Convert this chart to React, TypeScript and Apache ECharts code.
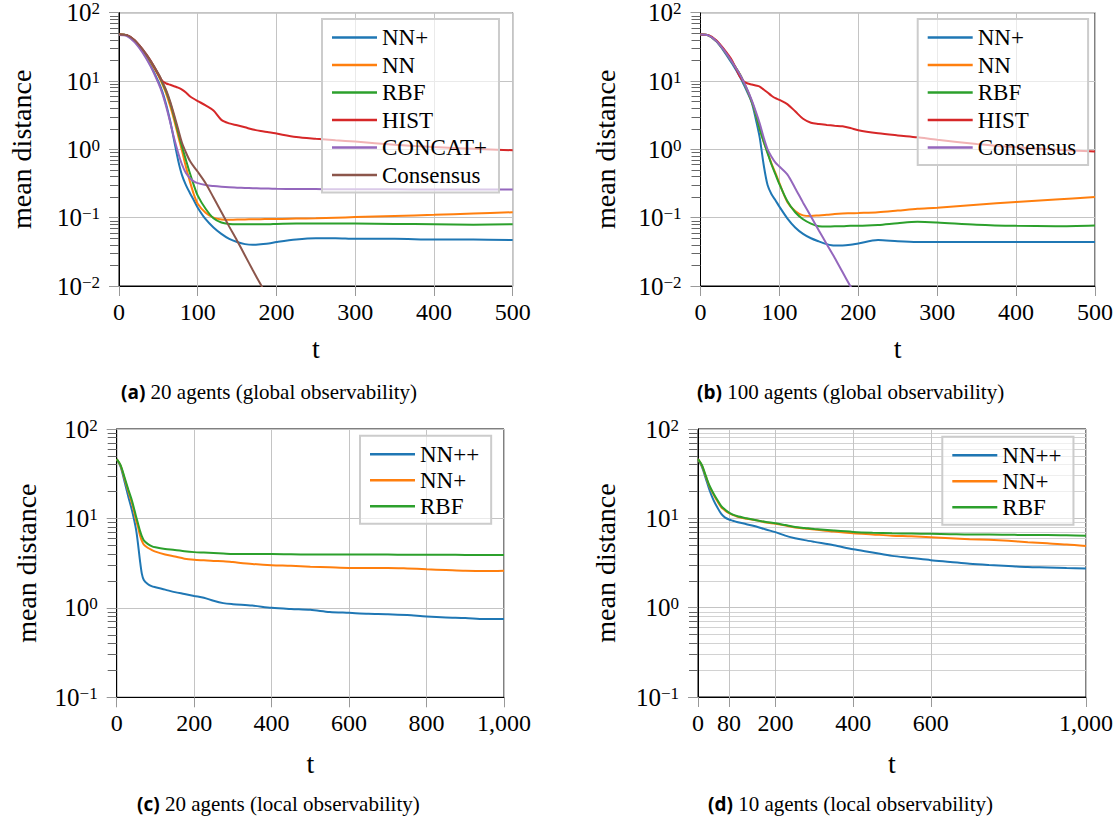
import { useEffect, useRef } from 'react';
import * as echarts from 'echarts';

// ---------- data ----------
const T_AB = [0, 10, 20, 30, 40, 50, 55, 60, 65, 70, 75, 80, 85, 90, 95, 100, 110, 120, 130, 140, 150, 160, 170, 180, 190, 200, 225, 250, 275, 300, 350, 400, 450, 500];

const aNNPlus = [48, 46.5, 38, 27, 17, 9.8, 7.0, 4.5, 2.6, 1.35, 0.7, 0.42, 0.3, 0.23, 0.18, 0.14, 0.095, 0.072, 0.058, 0.049, 0.044, 0.041, 0.04, 0.041, 0.042, 0.044, 0.048, 0.05, 0.05, 0.049, 0.049, 0.048, 0.048, 0.047];
const aNN = [48, 46.5, 38.5, 28, 19, 12, 9, 6.5, 4.3, 2.7, 1.6, 0.95, 0.55, 0.34, 0.22, 0.16, 0.118, 0.1, 0.094, 0.093, 0.094, 0.094, 0.095, 0.095, 0.096, 0.096, 0.097, 0.098, 0.1, 0.102, 0.106, 0.11, 0.115, 0.12];
const aRBF = [48, 46.5, 38.5, 28, 19.5, 12.5, 9.5, 7, 4.8, 3.0, 1.8, 1.1, 0.7, 0.45, 0.3, 0.21, 0.135, 0.098, 0.085, 0.081, 0.08, 0.08, 0.08, 0.08, 0.08, 0.081, 0.082, 0.082, 0.082, 0.082, 0.081, 0.08, 0.079, 0.08];
const aHIST = [48, 47, 39.5, 29, 20, 12.5, 10, 9.2, 8.8, 8.4, 8.0, 7.5, 6.8, 6.0, 5.5, 5.1, 4.4, 3.7, 2.7, 2.4, 2.25, 2.1, 1.95, 1.85, 1.78, 1.7, 1.52, 1.43, 1.36, 1.3, 1.17, 1.08, 1.02, 0.97];
const aCONCAT = [47, 45.5, 37, 26, 16.5, 9.3, 6.6, 4.2, 2.5, 1.45, 0.9, 0.6, 0.45, 0.38, 0.34, 0.32, 0.3, 0.29, 0.283, 0.278, 0.275, 0.272, 0.27, 0.268, 0.267, 0.265, 0.263, 0.262, 0.26, 0.26, 0.26, 0.258, 0.258, 0.258];
const aConsensus = [48, 47, 39.5, 29, 20, 12.8, 9.8, 7.3, 5.0, 3.2, 2.0, 1.25, 0.9, 0.68, 0.56, 0.47, 0.32, 0.197, 0.121, 0.074, 0.046, 0.028, 0.017, 0.0105, 0.0065];

const bNNPlus = [48, 46.5, 38, 27, 18, 11.5, 8.8, 6.6, 4.8, 2.8, 1.5, 0.6, 0.3, 0.22, 0.18, 0.145, 0.098, 0.072, 0.058, 0.05, 0.045, 0.041, 0.039, 0.039, 0.04, 0.042, 0.047, 0.045, 0.044, 0.044, 0.044, 0.044, 0.044, 0.044];
const bNN = [48, 46.5, 38.5, 28, 19, 12.5, 9.5, 7, 5, 3.3, 2.0, 1.3, 0.9, 0.62, 0.45, 0.32, 0.17, 0.125, 0.108, 0.106, 0.108, 0.11, 0.113, 0.115, 0.116, 0.117, 0.12, 0.127, 0.135, 0.14, 0.155, 0.17, 0.185, 0.2];
const bRBF = [48, 46.5, 38.5, 28, 19, 12.5, 9.5, 7, 5, 3.3, 2.0, 1.3, 0.88, 0.6, 0.43, 0.31, 0.175, 0.12, 0.095, 0.082, 0.075, 0.074, 0.075, 0.075, 0.076, 0.076, 0.078, 0.083, 0.087, 0.085, 0.079, 0.076, 0.075, 0.077];
const bHIST = [48, 47, 39.5, 29, 20, 11.5, 9.8, 9.2, 8.9, 8.6, 8.3, 7.5, 6.8, 6.1, 5.6, 5.3, 4.6, 3.6, 2.8, 2.45, 2.35, 2.28, 2.22, 2.17, 2.05, 1.9, 1.72, 1.6, 1.5, 1.38, 1.2, 1.07, 0.99, 0.93];
const bConsensus = [48, 46.5, 38.5, 28, 19, 12.5, 9.6, 7.2, 5.2, 3.6, 2.4, 1.5, 1.0, 0.78, 0.64, 0.56, 0.43, 0.27, 0.166, 0.104, 0.065, 0.041, 0.026, 0.016, 0.0099, 0.0062];

const T_C = [0, 10, 20, 30, 40, 50, 55, 60, 65, 70, 80, 90, 100, 125, 150, 175, 200, 225, 250, 275, 300, 350, 400, 450, 500, 550, 600, 650, 700, 750, 800, 850, 900, 950, 1000];
const cNNPlusPlus = [46, 38, 26, 17.5, 12, 7.5, 5.2, 3.4, 2.4, 2.05, 1.85, 1.75, 1.7, 1.6, 1.5, 1.43, 1.36, 1.3, 1.2, 1.13, 1.1, 1.06, 1.0, 0.97, 0.95, 0.9, 0.88, 0.86, 0.85, 0.83, 0.8, 0.78, 0.77, 0.75, 0.75];
const cNNPlus = [46, 39, 28, 20, 14.5, 9.5, 8, 6.5, 5.6, 5.1, 4.7, 4.45, 4.25, 3.95, 3.75, 3.55, 3.45, 3.4, 3.35, 3.33, 3.25, 3.1, 3.0, 2.95, 2.88, 2.84, 2.8, 2.8, 2.8, 2.76, 2.7, 2.65, 2.6, 2.58, 2.6];
const cRBF = [46, 39.5, 29, 21, 15.5, 10.5, 8.8, 7.3, 6.3, 5.7, 5.2, 4.9, 4.75, 4.55, 4.45, 4.3, 4.2, 4.15, 4.1, 4.05, 4.0, 4.0, 4.0, 3.97, 3.95, 3.95, 3.95, 3.95, 3.94, 3.93, 3.92, 3.92, 3.91, 3.9, 3.9];

const T_D = [0, 10, 20, 30, 40, 50, 60, 70, 80, 90, 100, 125, 150, 175, 200, 225, 250, 275, 300, 350, 400, 450, 500, 550, 600, 650, 700, 750, 800, 850, 900, 950, 1000];
const dNNPlusPlus = [46, 38, 28, 20.5, 16, 13.2, 11.2, 10.2, 9.7, 9.4, 9.1, 8.6, 8.1, 7.5, 7.0, 6.4, 6.0, 5.7, 5.45, 5.0, 4.5, 4.15, 3.8, 3.6, 3.4, 3.25, 3.1, 3.0, 2.92, 2.85, 2.82, 2.78, 2.75];
const dNNPlus = [46, 39, 29.5, 22.5, 18.5, 15.5, 13.3, 12.2, 11.4, 10.9, 10.5, 9.9, 9.5, 9.0, 8.7, 8.3, 7.9, 7.7, 7.5, 7.1, 6.8, 6.6, 6.4, 6.3, 6.15, 6.0, 5.85, 5.75, 5.6, 5.4, 5.25, 5.1, 4.9];
const dRBF = [46, 39.5, 30, 23, 19, 16, 13.7, 12.5, 11.6, 11.0, 10.6, 10.0, 9.5, 9.1, 8.8, 8.4, 8.0, 7.8, 7.6, 7.3, 7.05, 6.9, 6.8, 6.75, 6.7, 6.65, 6.6, 6.6, 6.55, 6.5, 6.5, 6.45, 6.4];

const D_TICKS = [0, 80, 200, 400, 600, 1000];

const CAPTIONS = [
  ['(a)', '20 agents (global observability)'],
  ['(b)', '100 agents (global observability)'],
  ['(c)', '20 agents (local observability)'],
  ['(d)', '10 agents (local observability)'],
];

// ---------- styling ----------
const C = { blue: '#1f77b4', orange: '#ff7f0e', green: '#2ca02c', red: '#d62728', purple: '#9467bd', brown: '#8c564b' };
const SERIF = 'Liberation Serif';
const GRID = '#c4c4c4';

const sup = (e: number) => (e < 0 ? '\u2212' + -e : String(e));
const logLabel = (v: number) => `{b|10}{s|${sup(Math.round(Math.log10(v)))}}`;
const comma = (v: number) => String(v).replace(/\B(?=(\d{3})+(?!\d))/g, ',');

function line(key: string, name: string, t: number[], v: number[], color: string, gi: number) {
  return {
    type: 'line',
    name: key + ':' + name,
    xAxisIndex: gi,
    yAxisIndex: gi,
    data: v.map((y, i) => [t[i], y]),
    symbol: 'none',
    showSymbol: false,
    smooth: 0.3,
    clip: true,
    lineStyle: { width: 2, color },
    itemStyle: { color },
    emphasis: { disabled: true },
  };
}

function xAxis(gi: number, max: number, interval: number, nameGap: number, custom?: number[]) {
  return {
    type: 'value',
    gridIndex: gi,
    min: 0,
    max,
    interval,
    axisLine: { show: true, onZero: false, lineStyle: { color: '#000', width: 1 } },
    axisTick: { show: true, inside: false, length: 10, lineStyle: { color: '#999' }, ...(custom ? { customValues: custom } : {}) },
    axisLabel: { fontFamily: SERIF, fontSize: 24, color: '#000', margin: 14, formatter: comma, ...(custom ? { customValues: custom } : {}) },
    splitLine: { show: true, lineStyle: { color: GRID, width: 1 } },
    name: 't',
    nameLocation: 'middle',
    nameGap,
    nameTextStyle: { fontFamily: SERIF, fontSize: 28, color: '#000' },
  };
}

function yLog(gi: number, min: number, nameGap: number) {
  return {
    type: 'log',
    logBase: 10,
    gridIndex: gi,
    min,
    max: 100,
    interval: 1,
    position: 'left',
    axisLine: { show: true, lineStyle: { color: '#000', width: 1 } },
    axisTick: { show: true, length: 10, lineStyle: { color: '#999' } },
    axisLabel: {
      margin: 19,
      fontFamily: SERIF,
      formatter: logLabel,
      rich: {
        b: { fontFamily: SERIF, fontSize: 25, color: '#000' },
        s: { fontFamily: SERIF, fontSize: 17, color: '#000', verticalAlign: 'top' },
      },
    },
    splitLine: { show: true, lineStyle: { color: GRID, width: 1 } },
    name: 'mean distance',
    nameLocation: 'middle',
    nameGap,
    nameRotate: 90,
    nameTextStyle: { fontFamily: SERIF, fontSize: 28, color: '#000' },
  };
}

function yMinor(gi: number, lo: number, hi: number, showGrid: boolean) {
  const vals: number[] = [];
  for (let n = lo; n < hi; n++) for (let k = 2; k <= 9; k++) vals.push(n + Math.log10(k));
  return {
    type: 'value',
    gridIndex: gi,
    min: lo,
    max: hi,
    position: 'left',
    axisLine: { show: false },
    axisLabel: { show: false },
    axisTick: { show: true, length: 9, customValues: vals, lineStyle: { color: '#666' } },
    splitLine: { show: showGrid, lineStyle: { color: '#d2d2d2', width: 1 } },
  };
}

function legend(key: string, names: string[], left: number, top: number, gap: number) {
  return {
    data: names.map((n) => key + ':' + n),
    formatter: (n: string) => n.split(':')[1],
    orient: 'vertical',
    left,
    top,
    icon: 'rect',
    itemWidth: 45,
    itemHeight: 2.4,
    itemGap: gap,
    padding: [7, 12, 6, 10],
    borderColor: '#cccccc',
    borderWidth: 2,
    backgroundColor: 'rgba(255,255,255,0.65)',
    selectedMode: false,
    textStyle: { fontFamily: SERIF, fontSize: 23, color: '#000', lineHeight: 22 },
  };
}

function caption(i: number, left: number, top: number) {
  return {
    text: `{b|${CAPTIONS[i][0]}} ${CAPTIONS[i][1]}`,
    left,
    top,
    padding: 0,
    textStyle: {
      fontFamily: SERIF,
      fontSize: 21,
      fontWeight: 'normal',
      color: '#000',
      rich: { b: { fontFamily: 'Open Sans', fontWeight: 'bold', fontSize: 19, color: '#000' } },
    },
  };
}

function buildOption() {
  return {
    animation: false,
    backgroundColor: '#fff',
    textStyle: { fontFamily: SERIF },
    title: [caption(0, 121, 381), caption(1, 697, 381), caption(2, 137, 793), caption(3, 708, 793)],
    grid: [
      { left: 119, top: 12.7, width: 393.7, height: 273.3, show: true, borderColor: '#000', borderWidth: 1, containLabel: false },
      { left: 700.5, top: 12.7, width: 394.5, height: 273.3, show: true, borderColor: '#000', borderWidth: 1, containLabel: false },
      { left: 116.7, top: 429, width: 387.3, height: 268.3, show: true, borderColor: '#000', borderWidth: 1, containLabel: false },
      { left: 698, top: 429, width: 388, height: 268, show: true, borderColor: '#000', borderWidth: 1, containLabel: false },
    ],
    xAxis: [
      xAxis(0, 500, 100, 48),
      xAxis(1, 500, 100, 48),
      xAxis(2, 1000, 200, 52),
      xAxis(3, 1000, 200, 52, D_TICKS),
    ],
    yAxis: [
      yLog(0, 0.01, 84),
      yLog(1, 0.01, 81),
      yLog(2, 0.1, 76),
      yLog(3, 0.1, 79),
      yMinor(0, -2, 2, false),
      yMinor(1, -2, 2, false),
      yMinor(2, -1, 2, false),
      yMinor(3, -1, 2, true),
    ],
    legend: [
      legend('a', ['NN+', 'NN', 'RBF', 'HIST', 'CONCAT+', 'Consensus'], 322, 19, 4.5),
      legend('b', ['NN+', 'NN', 'RBF', 'HIST', 'Consensus'], 917.7, 19, 4.5),
      legend('c', ['NN++', 'NN+', 'RBF'], 360, 435.7, 3),
      legend('d', ['NN++', 'NN+', 'RBF'], 942.3, 436.7, 3),
    ],
    series: [
      line('a', 'NN+', T_AB, aNNPlus, C.blue, 0),
      line('a', 'NN', T_AB, aNN, C.orange, 0),
      line('a', 'RBF', T_AB, aRBF, C.green, 0),
      line('a', 'HIST', T_AB, aHIST, C.red, 0),
      line('a', 'CONCAT+', T_AB, aCONCAT, C.purple, 0),
      line('a', 'Consensus', T_AB, aConsensus, C.brown, 0),
      line('b', 'NN+', T_AB, bNNPlus, C.blue, 1),
      line('b', 'NN', T_AB, bNN, C.orange, 1),
      line('b', 'RBF', T_AB, bRBF, C.green, 1),
      line('b', 'HIST', T_AB, bHIST, C.red, 1),
      line('b', 'Consensus', T_AB, bConsensus, C.purple, 1),
      line('c', 'NN++', T_C, cNNPlusPlus, C.blue, 2),
      line('c', 'NN+', T_C, cNNPlus, C.orange, 2),
      line('c', 'RBF', T_C, cRBF, C.green, 2),
      line('d', 'NN++', T_D, dNNPlusPlus, C.blue, 3),
      line('d', 'NN+', T_D, dNNPlus, C.orange, 3),
      line('d', 'RBF', T_D, dRBF, C.green, 3),
    ],
  };
}

export default function App() {
  const ref = useRef<HTMLDivElement>(null);
  useEffect(() => {
    if (!ref.current) return;
    const chart = echarts.init(ref.current, null, { renderer: 'svg' });
    chart.setOption(buildOption() as any);
    return () => chart.dispose();
  }, []);
  return (
    <div
      ref={ref}
      style={{ position: 'fixed', left: 0, top: 0, width: 1120, height: 828, background: '#fff' }}
    />
  );
}
